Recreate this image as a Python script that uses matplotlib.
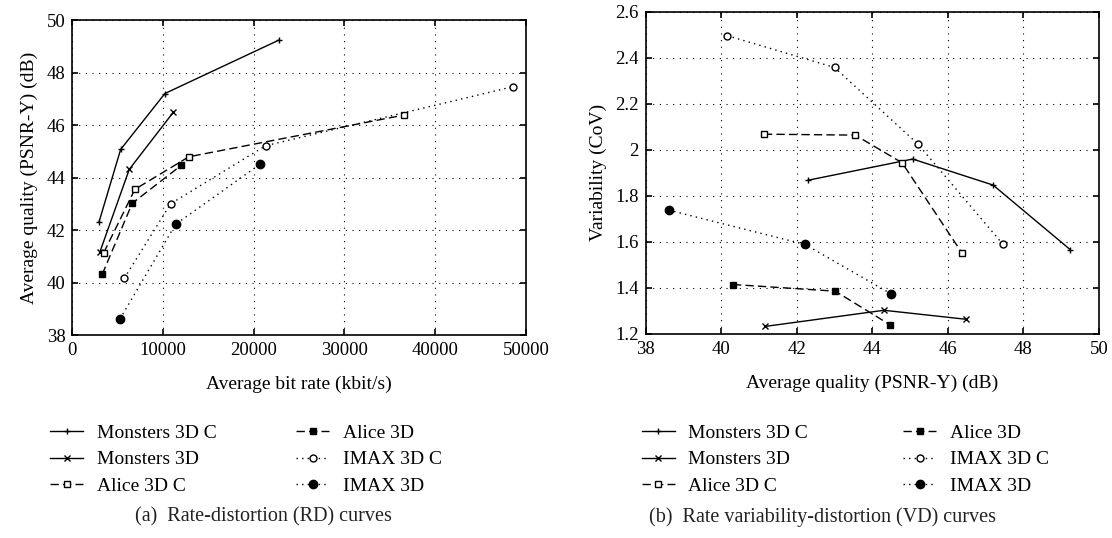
import matplotlib.pyplot as plt

plt.rcParams['font.family'] = ['Liberation Serif', 'DejaVu Serif']

labels = ["Monsters 3D C", "Monsters 3D", "Alice 3D C", "Alice 3D", "IMAX 3D C", "IMAX 3D"]

# (a) bit rate (kbit/s) vs PSNR-Y (dB)
rate_monsters_c = [2940, 5330, 10210, 22800]
psnr_monsters_c = [42.30, 45.07, 47.20, 49.24]
rate_monsters = [3050, 6280, 11120]
psnr_monsters = [41.17, 44.31, 46.48]
rate_alice_c = [3460, 6900, 12850, 36560]
psnr_alice_c = [41.13, 43.55, 44.79, 46.38]
rate_alice = [3300, 6610, 12000]
psnr_alice = [40.31, 43.02, 44.46]
rate_imax_c = [5730, 10840, 21300, 48570]
psnr_imax_c = [40.16, 43.00, 45.21, 47.46]
rate_imax = [5250, 11390, 20670]
psnr_imax = [38.61, 42.22, 44.50]

# (b) PSNR-Y (dB) vs CoV
cov_monsters_c = [1.868, 1.960, 1.847, 1.567]
cov_monsters = [1.233, 1.303, 1.264]
cov_alice_c = [2.068, 2.064, 1.944, 1.551]
cov_alice = [1.415, 1.386, 1.241]
cov_imax_c = [2.496, 2.358, 2.025, 1.590]
cov_imax = [1.738, 1.589, 1.374]

styles = [
    dict(ls='-', marker='+', ms=5, mew=1.0, mfc='k'),
    dict(ls='-', marker='x', ms=4, mew=1.0, mfc='k'),
    dict(ls=(0, (6, 3)), marker='s', ms=5, mew=1.0, mfc='white'),
    dict(ls=(0, (6, 3)), marker='s', ms=5, mew=1.0, mfc='k'),
    dict(ls=(0, (1, 3)), marker='o', ms=5, mew=1.0, mfc='white'),
    dict(ls=(0, (1, 3)), marker='o', ms=6, mew=1.0, mfc='k'),
]

fig = plt.figure(figsize=(11.12, 5.38), dpi=100)
ax1 = fig.add_axes([0.065, 0.3773, 0.408, 0.5855])
ax2 = fig.add_axes([0.5807, 0.3792, 0.4074, 0.599])

xs_a = [rate_monsters_c, rate_monsters, rate_alice_c, rate_alice, rate_imax_c, rate_imax]
ys_a = [psnr_monsters_c, psnr_monsters, psnr_alice_c, psnr_alice, psnr_imax_c, psnr_imax]
ys_b = [cov_monsters_c, cov_monsters, cov_alice_c, cov_alice, cov_imax_c, cov_imax]

for x, y, st, lab in zip(xs_a, ys_a, styles, labels):
    ax1.plot(x, y, color='k', lw=1.0, mec='k', label=lab, **st)
for x, y, st, lab in zip(ys_a, ys_b, styles, labels):
    ax2.plot(x, y, color='k', lw=1.0, mec='k', label=lab, **st)

ax1.set_xlim(0, 50000)
ax1.set_ylim(38, 50)
ax1.set_xticks(range(0, 50001, 10000))
ax1.set_yticks(range(38, 51, 2))
ax1.set_xlabel("Average bit rate (kbit/s)", fontsize=14, labelpad=12)
ax1.set_ylabel("Average quality (PSNR-Y) (dB)", fontsize=14, labelpad=6)

ax2.set_xlim(38, 50)
ax2.set_ylim(1.2, 2.6)
ax2.set_xticks(range(38, 51, 2))
ax2.set_yticks([1.2, 1.4, 1.6, 1.8, 2.0, 2.2, 2.4, 2.6])
ax2.set_yticklabels(['1.2', '1.4', '1.6', '1.8', '2', '2.2', '2.4', '2.6'])
ax2.set_xlabel("Average quality (PSNR-Y) (dB)", fontsize=14, labelpad=12)
ax2.set_ylabel("Variability (CoV)", fontsize=14, labelpad=6)

for ax in (ax1, ax2):
    ax.grid(True, color='k', ls=(0, (1, 5)), lw=0.8)
    ax.tick_params(direction='in', top=True, right=True, labelsize=13.5,
                   length=4, width=1.2, pad=5)
    for s in ax.spines.values():
        s.set_linewidth(1.2)

leg_kw = dict(ncol=2, frameon=False, fontsize=14, handlelength=1.7,
              handletextpad=0.7, labelspacing=0.45, loc='upper left',
              borderaxespad=0, borderpad=0)
fig.legend(*ax1.get_legend_handles_labels(), bbox_to_anchor=(0.045, 0.211),
           bbox_transform=fig.transFigure, columnspacing=4.1, **leg_kw)
fig.legend(*ax2.get_legend_handles_labels(), bbox_to_anchor=(0.577, 0.211),
           bbox_transform=fig.transFigure, columnspacing=4.9, **leg_kw)

fig.text(0.237, 0.039, "(a)  Rate-distortion (RD) curves", ha='center', va='center',
         fontsize=14.5, color='#222222')
fig.text(0.74, 0.039, "(b)  Rate variability-distortion (VD) curves", ha='center', va='center',
         fontsize=14.5, color='#222222')

fig.savefig("out.png", dpi=100)
